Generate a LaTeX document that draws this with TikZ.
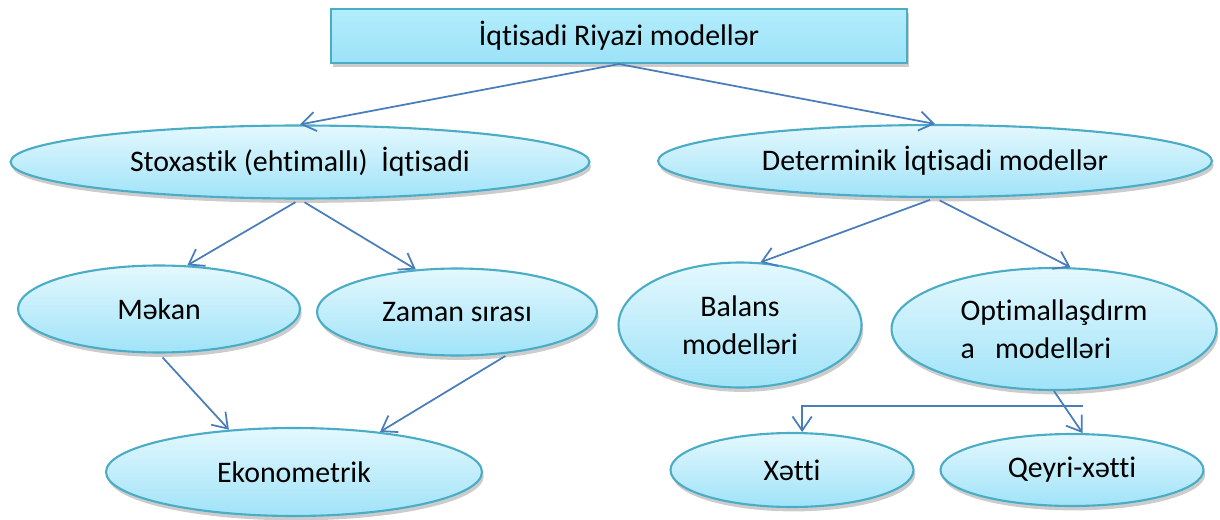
\documentclass[tikz,border=0pt]{standalone}
\usepackage{fontspec}
\setmainfont{Carlito}[Ligatures=NoCommon]
\usetikzlibrary{arrows.meta,shapes.geometric,shadows}

\definecolor{lineblue}{RGB}{74,126,187}
\definecolor{rimblue}{RGB}{75,172,198}
\definecolor{palecyan}{RGB}{228,248,254}
\definecolor{skycyan}{RGB}{160,227,248}
\definecolor{boxtop}{RGB}{178,237,252}
\definecolor{boxbottom}{RGB}{156,226,248}

\begin{document}
\begin{tikzpicture}[x=0.02cm,y=-0.02cm,>={Straight Barb[length=8pt,width=11pt]},
  every node/.style={font=\fontsize{17}{21.5}\selectfont, inner sep=0pt},
  softshadow/.style={drop shadow={shadow xshift=1pt, shadow yshift=-2.5pt, opacity=0.2, fill=black}},
  oval/.style={ellipse, draw=rimblue, line width=1.2pt, top color=palecyan, bottom color=skycyan, softshadow},
  link/.style={->, draw=lineblue, line width=1pt}]
  \useasboundingbox (0,0) rectangle (1220,520);

  \node[rectangle, draw=rimblue, line width=1.2pt, top color=boxtop, bottom color=boxbottom, softshadow,
        minimum width=11.52cm, minimum height=1.08cm] (riy) at (619,36) {İqtisadi Riyazi modellər};

  \node[oval, minimum width=11.58cm, minimum height=1.46cm] (stox) at (300,162) {Stoxastik (ehtimallı)\ \ İqtisadi};
  \node[oval, minimum width=11.08cm, minimum height=1.44cm] (det) at (935,161) {Determinik İqtisadi modellər};

  \node[oval, minimum width=5.64cm, minimum height=1.74cm] (mekan) at (159,309) {Məkan};
  \node[oval, minimum width=5.6cm, minimum height=1.74cm] (zaman) at (457,312) {Zaman sırası};
  \node[oval, minimum width=4.86cm, minimum height=2.5cm, align=center] (bal) at (740,325) {Balans\\modelləri};
  \node[oval, minimum width=6.5cm, minimum height=2.44cm, align=left] (opt) at (1054,329) {Optimallaşdırm\\a\ \ \ modelləri};

  \node[oval, minimum width=7.52cm, minimum height=1.76cm] (ekon) at (294,472) {Ekonometrik};
  \node[oval, minimum width=4.86cm, minimum height=1.48cm] (xetti) at (792,470) {Xətti};
  \node[oval, minimum width=5.26cm, minimum height=1.44cm] (qeyri) at (1072,470) {Qeyri-xətti};

  \draw[link] (riy.south) -- (stox.north);
  \draw[link] (riy.south) -- (det.north);
  \draw[link, shorten <=3pt] (stox.south) -- (mekan.57);
  \draw[link, shorten <=3pt] (stox.south) -- (zaman.134);
  \draw[link, shorten <=3pt] (det.south) -- (bal.72);
  \draw[link, shorten <=3pt] (det.south) -- (opt.75);
  \draw[link, shorten <=3pt] (mekan.south) -- (ekon.147);
  \draw[link, shorten <=3pt] (zaman.-38) -- (ekon.25);
  \draw[link] (opt.south) -- (qeyri.74);

  % free branch towards Xetti
  \coordinate (split) at (1083,406);
  \draw[link] (split) -| (xetti.75);
\end{tikzpicture}
\end{document}
